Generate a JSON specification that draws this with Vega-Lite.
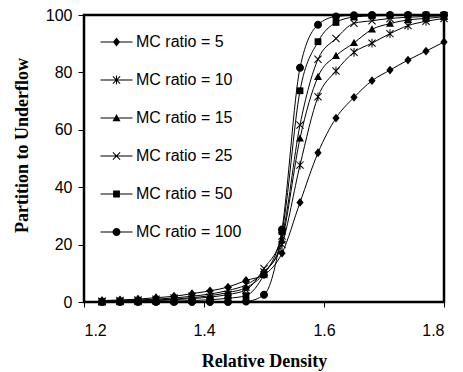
{
  "$schema": "https://vega.github.io/schema/vega-lite/v6.json",
  "width": 360,
  "height": 287,
  "autosize": "none",
  "padding": {"left": 84, "top": 15, "right": 19, "bottom": 70},
  "background": "white",
  "config": {
    "view": {"stroke": "black", "strokeWidth": 2.5},
    "axis": {
      "domain": false,
      "grid": false,
      "tickColor": "black",
      "tickWidth": 1,
      "labelFont": "Liberation Sans",
      "labelFontSize": 16,
      "labelColor": "black",
      "titleFont": "Liberation Serif",
      "titleFontSize": 18,
      "titleFontWeight": "bold",
      "titleColor": "black"
    }
  },
  "data": {
    "values": [
      {"d":1.23,"s":"MC ratio = 5","p":0.5},{"d":1.26,"s":"MC ratio = 5","p":0.7},{"d":1.29,"s":"MC ratio = 5","p":1.0},{"d":1.32,"s":"MC ratio = 5","p":1.5},{"d":1.35,"s":"MC ratio = 5","p":2.0},{"d":1.38,"s":"MC ratio = 5","p":2.9},{"d":1.41,"s":"MC ratio = 5","p":3.9},{"d":1.44,"s":"MC ratio = 5","p":5.2},{"d":1.47,"s":"MC ratio = 5","p":7.5},{"d":1.50,"s":"MC ratio = 5","p":9.5},{"d":1.53,"s":"MC ratio = 5","p":17.0},{"d":1.56,"s":"MC ratio = 5","p":34.7},{"d":1.59,"s":"MC ratio = 5","p":52.0},{"d":1.62,"s":"MC ratio = 5","p":64.1},{"d":1.65,"s":"MC ratio = 5","p":71.3},{"d":1.68,"s":"MC ratio = 5","p":77.1},{"d":1.71,"s":"MC ratio = 5","p":80.8},{"d":1.74,"s":"MC ratio = 5","p":84.3},{"d":1.77,"s":"MC ratio = 5","p":87.4},{"d":1.80,"s":"MC ratio = 5","p":90.6},
      {"d":1.23,"s":"MC ratio = 10","p":0.3},{"d":1.26,"s":"MC ratio = 10","p":0.5},{"d":1.29,"s":"MC ratio = 10","p":0.7},{"d":1.32,"s":"MC ratio = 10","p":1.0},{"d":1.35,"s":"MC ratio = 10","p":1.4},{"d":1.38,"s":"MC ratio = 10","p":2.0},{"d":1.41,"s":"MC ratio = 10","p":2.8},{"d":1.44,"s":"MC ratio = 10","p":4.0},{"d":1.47,"s":"MC ratio = 10","p":6.0},{"d":1.50,"s":"MC ratio = 10","p":10.5},{"d":1.53,"s":"MC ratio = 10","p":20.0},{"d":1.56,"s":"MC ratio = 10","p":47.7},{"d":1.59,"s":"MC ratio = 10","p":71.5},{"d":1.62,"s":"MC ratio = 10","p":80.5},{"d":1.65,"s":"MC ratio = 10","p":87.0},{"d":1.68,"s":"MC ratio = 10","p":90.2},{"d":1.71,"s":"MC ratio = 10","p":93.5},{"d":1.74,"s":"MC ratio = 10","p":96.3},{"d":1.77,"s":"MC ratio = 10","p":97.8},{"d":1.80,"s":"MC ratio = 10","p":98.8},
      {"d":1.23,"s":"MC ratio = 15","p":0.2},{"d":1.26,"s":"MC ratio = 15","p":0.3},{"d":1.29,"s":"MC ratio = 15","p":0.5},{"d":1.32,"s":"MC ratio = 15","p":0.7},{"d":1.35,"s":"MC ratio = 15","p":1.0},{"d":1.38,"s":"MC ratio = 15","p":1.5},{"d":1.41,"s":"MC ratio = 15","p":2.2},{"d":1.44,"s":"MC ratio = 15","p":3.3},{"d":1.47,"s":"MC ratio = 15","p":5.0},{"d":1.50,"s":"MC ratio = 15","p":10.0},{"d":1.53,"s":"MC ratio = 15","p":21.5},{"d":1.56,"s":"MC ratio = 15","p":57.0},{"d":1.59,"s":"MC ratio = 15","p":78.5},{"d":1.62,"s":"MC ratio = 15","p":85.8},{"d":1.65,"s":"MC ratio = 15","p":90.3},{"d":1.68,"s":"MC ratio = 15","p":95.0},{"d":1.71,"s":"MC ratio = 15","p":97.0},{"d":1.74,"s":"MC ratio = 15","p":98.3},{"d":1.77,"s":"MC ratio = 15","p":98.8},{"d":1.80,"s":"MC ratio = 15","p":99.4},
      {"d":1.23,"s":"MC ratio = 25","p":0.1},{"d":1.26,"s":"MC ratio = 25","p":0.2},{"d":1.29,"s":"MC ratio = 25","p":0.3},{"d":1.32,"s":"MC ratio = 25","p":0.5},{"d":1.35,"s":"MC ratio = 25","p":0.8},{"d":1.38,"s":"MC ratio = 25","p":1.2},{"d":1.41,"s":"MC ratio = 25","p":1.7},{"d":1.44,"s":"MC ratio = 25","p":2.6},{"d":1.47,"s":"MC ratio = 25","p":4.2},{"d":1.50,"s":"MC ratio = 25","p":11.7},{"d":1.53,"s":"MC ratio = 25","p":23.0},{"d":1.56,"s":"MC ratio = 25","p":61.7},{"d":1.59,"s":"MC ratio = 25","p":84.6},{"d":1.62,"s":"MC ratio = 25","p":91.8},{"d":1.65,"s":"MC ratio = 25","p":97.1},{"d":1.68,"s":"MC ratio = 25","p":98.0},{"d":1.71,"s":"MC ratio = 25","p":98.8},{"d":1.74,"s":"MC ratio = 25","p":99.2},{"d":1.77,"s":"MC ratio = 25","p":99.5},{"d":1.80,"s":"MC ratio = 25","p":99.7},
      {"d":1.23,"s":"MC ratio = 50","p":0.0},{"d":1.26,"s":"MC ratio = 50","p":0.1},{"d":1.29,"s":"MC ratio = 50","p":0.1},{"d":1.32,"s":"MC ratio = 50","p":0.2},{"d":1.35,"s":"MC ratio = 50","p":0.3},{"d":1.38,"s":"MC ratio = 50","p":0.5},{"d":1.41,"s":"MC ratio = 50","p":0.8},{"d":1.44,"s":"MC ratio = 50","p":1.3},{"d":1.47,"s":"MC ratio = 50","p":2.2},{"d":1.50,"s":"MC ratio = 50","p":9.5},{"d":1.53,"s":"MC ratio = 50","p":24.5},{"d":1.56,"s":"MC ratio = 50","p":73.6},{"d":1.59,"s":"MC ratio = 50","p":90.7},{"d":1.62,"s":"MC ratio = 50","p":97.4},{"d":1.65,"s":"MC ratio = 50","p":99.3},{"d":1.68,"s":"MC ratio = 50","p":99.7},{"d":1.71,"s":"MC ratio = 50","p":99.8},{"d":1.74,"s":"MC ratio = 50","p":99.9},{"d":1.77,"s":"MC ratio = 50","p":100},{"d":1.80,"s":"MC ratio = 50","p":100},
      {"d":1.23,"s":"MC ratio = 100","p":0.0},{"d":1.26,"s":"MC ratio = 100","p":0.0},{"d":1.29,"s":"MC ratio = 100","p":0.0},{"d":1.32,"s":"MC ratio = 100","p":0.0},{"d":1.35,"s":"MC ratio = 100","p":0.0},{"d":1.38,"s":"MC ratio = 100","p":0.0},{"d":1.41,"s":"MC ratio = 100","p":0.0},{"d":1.44,"s":"MC ratio = 100","p":0.0},{"d":1.47,"s":"MC ratio = 100","p":0.2},{"d":1.50,"s":"MC ratio = 100","p":2.5},{"d":1.53,"s":"MC ratio = 100","p":25.3},{"d":1.56,"s":"MC ratio = 100","p":81.6},{"d":1.59,"s":"MC ratio = 100","p":96.6},{"d":1.62,"s":"MC ratio = 100","p":99.5},{"d":1.65,"s":"MC ratio = 100","p":99.9},{"d":1.68,"s":"MC ratio = 100","p":100},{"d":1.71,"s":"MC ratio = 100","p":100},{"d":1.74,"s":"MC ratio = 100","p":100},{"d":1.77,"s":"MC ratio = 100","p":100},{"d":1.80,"s":"MC ratio = 100","p":100}
    ]
  },
  "encoding": {
    "x": {
      "field": "d", "type": "quantitative",
      "scale": {"domain": [1.2, 1.8], "nice": false, "zero": false},
      "axis": {"values": [1.2, 1.4, 1.6, 1.8], "format": ".1f", "title": "Relative Density", "tickSize": 5, "labelPadding": 15, "titlePadding": 14}
    },
    "y": {
      "field": "p", "type": "quantitative",
      "scale": {"domain": [0, 100], "nice": false},
      "axis": {"values": [0, 20, 40, 60, 80, 100], "format": "d", "title": "Partition to Underflow", "tickSize": 6, "labelPadding": 6, "titlePadding": 14, "titleY": 130}
    }
  },
  "resolve": {"scale": {"shape": "independent"}, "legend": {"shape": "independent"}},
  "layer": [
    {
      "mark": {"type": "line", "interpolate": "monotone", "color": "black", "strokeWidth": 1},
      "encoding": {"detail": {"field": "s"}}
    },
    {
      "mark": {"type": "point", "filled": true, "color": "black", "size": 64, "opacity": 1},
      "encoding": {
        "shape": {
          "field": "s", "type": "nominal",
          "scale": {
            "domain": ["MC ratio = 5", "MC ratio = 10", "MC ratio = 15", "MC ratio = 25", "MC ratio = 50", "MC ratio = 100"],
            "range": [
              "M0,-1.1L-0.9,0L0,1.1L0.9,0Z",
              "M-0.99,-0.81L0.81,0.99L0.99,0.81L-0.81,-0.99ZM-0.81,0.99L0.99,-0.81L0.81,-0.99L-0.99,0.81ZM-0.125,-1.1V1.1H0.125V-1.1Z",
              "M0,-1L-1,0.8L1,0.8Z",
              "M-0.99,-0.81L0.81,0.99L0.99,0.81L-0.81,-0.99ZM-0.81,0.99L0.99,-0.81L0.81,-0.99L-0.99,0.81Z",
              "M-0.85,-0.85V0.85H0.85V-0.85Z",
              "M1,0A1,1,0,1,0,-1,0A1,1,0,1,0,1,0Z"
            ]
          },
          "legend": null
        }
      }
    },
    {
      "mark": {"type": "point", "filled": true, "color": "black", "size": 64, "opacity": 0},
      "encoding": {
        "shape": {
          "field": "s", "type": "nominal",
          "scale": {
            "domain": ["MC ratio = 5", "MC ratio = 10", "MC ratio = 15", "MC ratio = 25", "MC ratio = 50", "MC ratio = 100"],
            "range": [
              "M-4,-0.13V0.13H4V-0.13ZM0,-1.1L-0.9,0L0,1.1L0.9,0Z",
              "M-4,-0.13V0.13H4V-0.13ZM-0.99,-0.81L0.81,0.99L0.99,0.81L-0.81,-0.99ZM-0.81,0.99L0.99,-0.81L0.81,-0.99L-0.99,0.81ZM-0.125,-1.1V1.1H0.125V-1.1Z",
              "M-4,-0.13V0.13H4V-0.13ZM0,-1L-1,0.8L1,0.8Z",
              "M-4,-0.13V0.13H4V-0.13ZM-0.99,-0.81L0.81,0.99L0.99,0.81L-0.81,-0.99ZM-0.81,0.99L0.99,-0.81L0.81,-0.99L-0.99,0.81Z",
              "M-4,-0.13V0.13H4V-0.13ZM-0.85,-0.85V0.85H0.85V-0.85Z",
              "M-4,-0.13V0.13H4V-0.13ZM1,0A1,1,0,1,0,-1,0A1,1,0,1,0,1,0Z"
            ]
          },
          "legend": {
            "title": null,
            "orient": "none",
            "legendX": 24.5,
            "legendY": 19,
            "padding": 0,
            "symbolSize": 64,
            "symbolStrokeWidth": 1,
            "symbolOpacity": 1,
            "labelFont": "Liberation Sans",
            "labelFontSize": 16,
            "labelColor": "black",
            "labelOffset": 11.5,
            "rowPadding": 22
          }
        }
      }
    }
  ]
}
